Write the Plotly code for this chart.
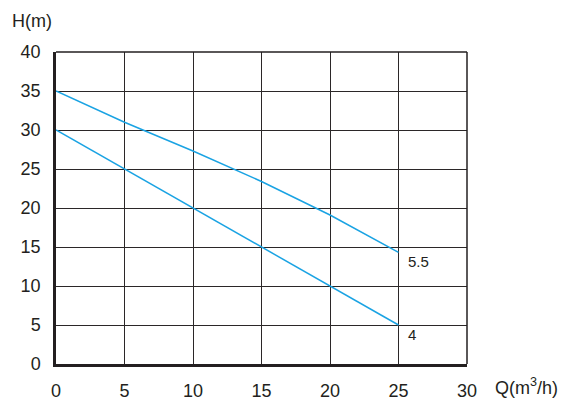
import plotly.graph_objects as go

# Data
q_values = [0, 5, 10, 15, 20, 25]
head_55 = [35, 31, 27.3, 23.4, 19.1, 14.3]
head_4 = [30, 25, 20, 15, 10, 5]
curve_labels = ["5.5", "4"]
x_ticks = [0, 5, 10, 15, 20, 25, 30]
y_ticks = [0, 5, 10, 15, 20, 25, 30, 35, 40]

LINE_COLOR = "#1aa3e3"
FONT = "Liberation Sans, Arial, sans-serif"

fig = go.Figure()
for heads, name in [(head_55, curve_labels[0]), (head_4, curve_labels[1])]:
    fig.add_trace(go.Scatter(x=q_values, y=heads, mode="lines", name=name,
                             line=dict(color=LINE_COLOR, width=1.5),
                             showlegend=False, hoverinfo="x+y"))
    fig.add_annotation(x=q_values[-1], y=heads[-1], text=name, showarrow=False,
                       xanchor="left", yanchor="middle", xshift=7, yshift=-9,
                       font=dict(family=FONT, size=15, color="#231f20"))

axis_common = dict(showgrid=True, gridcolor="#2b2728", gridwidth=1.3,
                   zeroline=False, showline=True, linecolor="#231f20", linewidth=2.5,
                   ticks="outside", ticklen=9, tickcolor="rgba(0,0,0,0)",
                   tickfont=dict(family=FONT, size=18, color="#231f20"),
                   fixedrange=True)

fig.update_xaxes(range=[0, 30], tickvals=x_ticks, ticktext=[str(v) for v in x_ticks], **axis_common)
fig.update_yaxes(range=[0, 40], tickvals=y_ticks, ticktext=[str(v) for v in y_ticks], **axis_common)

# top and right frame lines
fig.add_shape(type="line", xref="paper", yref="paper", x0=0, x1=1, y0=1, y1=1,
              line=dict(color="#231f20", width=1.5))
fig.add_shape(type="line", xref="paper", yref="paper", x0=1, x1=1, y0=0, y1=1,
              line=dict(color="#231f20", width=1.5))

fig.add_annotation(xref="paper", yref="paper", x=-0.113, y=1.1, text="H(m)",
                   showarrow=False, xanchor="left", yanchor="middle",
                   font=dict(family=FONT, size=18, color="#231f20"))
fig.add_annotation(xref="paper", yref="paper", x=1.064, y=-0.073, text="Q(m<sup>3</sup>/h)",
                   showarrow=False, xanchor="left", yanchor="middle",
                   font=dict(family=FONT, size=18, color="#231f20"))

fig.update_layout(width=568, height=413, margin=dict(l=56, r=101, t=52, b=46),
                  plot_bgcolor="white", paper_bgcolor="white",
                  font=dict(family=FONT, color="#231f20"))

fig.write_html("out.html", config={"displayModeBar": False},
               post_script="document.body.style.margin='0';document.body.style.overflow='hidden';")
